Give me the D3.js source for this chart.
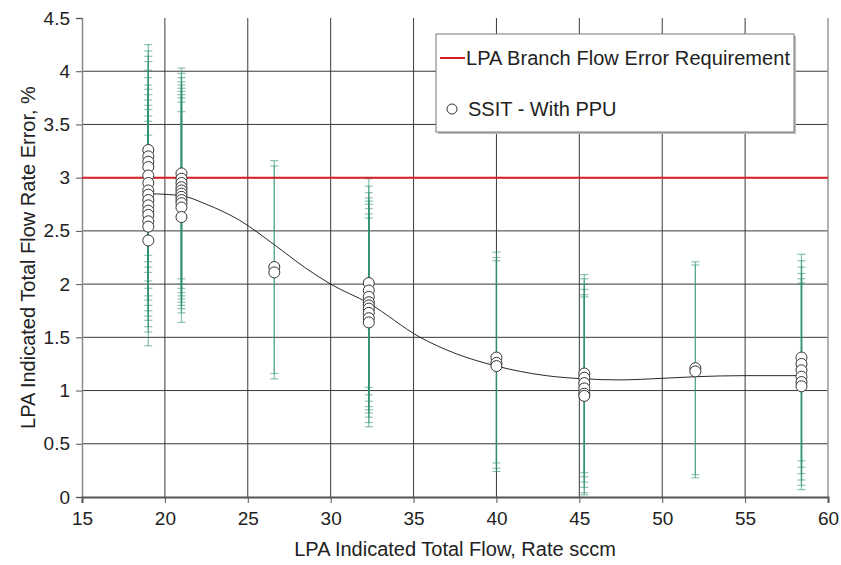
<!DOCTYPE html>
<html>
<head>
<meta charset="utf-8">
<script src="https://cdn.jsdelivr.net/npm/d3@7"></script>
<style>
  body { margin: 0; background: #fff; }
  text { font-family: "Liberation Sans", Arial, sans-serif; fill: #222; }
</style>
</head>
<body>
<script>
// flow setpoints (sccm) and the measured errors (%) at each one
const flowRates = [19, 21, 26.6, 32.3, 40, 45.3, 52, 58.4];
const errors19 = [3.26, 3.2, 3.15, 3.1, 3.02, 2.95, 2.88, 2.84, 2.79, 2.74, 2.69, 2.65, 2.59, 2.54, 2.41];
const errors21 = [3.04, 2.99, 2.95, 2.91, 2.88, 2.85, 2.82, 2.79, 2.76, 2.72, 2.63];
const errors26 = [2.16, 2.11];
const errors32 = [2.01, 1.94, 1.88, 1.83, 1.8, 1.77, 1.73, 1.68, 1.64];
const errors40 = [1.31, 1.26, 1.23];
const errors45 = [1.16, 1.12, 1.07, 1.02, 0.97, 0.95];
const errors52 = [1.21, 1.18];
const errors58 = [1.31, 1.25, 1.19, 1.13, 1.08, 1.04];
const clusterErrors = [errors19, errors21, errors26, errors32, errors40, errors45, errors52, errors58];
// uncertainty (± %) on each point, per setpoint
const uncertainty = [0.99, 0.99, 1.0, 0.98, 0.99, 0.93, 1.0, 0.97];

// trend curve
const trendX = [19, 21, 22.5, 24.5, 26.6, 28.5, 30, 32.3, 35.4, 37.5, 40, 43, 45.3, 47.4, 50, 52, 55, 58.4];
const trendY = [2.85, 2.83, 2.75, 2.6, 2.37, 2.15, 2.0, 1.82, 1.5, 1.35, 1.23, 1.14, 1.11, 1.1, 1.115, 1.13, 1.14, 1.14];

const requirement = 3;
const xTicks = [15, 20, 25, 30, 35, 40, 45, 50, 55, 60];
const yTicks = [0, 0.5, 1, 1.5, 2, 2.5, 3, 3.5, 4, 4.5];

const width = 841;
const height = 565;
const margin = { top: 18, right: 13, bottom: 68, left: 82 };

const svg = d3.select('body')
    .append('svg')
    .attr('width', width)
    .attr('height', height);

const x = d3.scaleLinear()
    .domain([15, 60])
    .range([margin.left, width - margin.right]);

const y = d3.scaleLinear()
    .domain([0, 4.5])
    .range([height - margin.bottom, margin.top]);

// grid
svg.append('g')
    .selectAll('line')
    .data(yTicks.filter(d => d > 0 && d < 4.5))
    .join('line')
    .attr('x1', x(15))
    .attr('x2', x(60))
    .attr('y1', d => y(d))
    .attr('y2', d => y(d))
    .attr('stroke', '#3a3a3a')
    .attr('stroke-width', 1);

svg.append('g')
    .selectAll('line')
    .data(xTicks.filter(d => d > 15 && d < 60))
    .join('line')
    .attr('x1', d => x(d))
    .attr('x2', d => x(d))
    .attr('y1', y(0))
    .attr('y2', y(4.5))
    .attr('stroke', '#3a3a3a')
    .attr('stroke-width', 1);

// right border
svg.append('line')
    .attr('x1', x(60)).attr('x2', x(60))
    .attr('y1', y(0)).attr('y2', y(4.5))
    .attr('stroke', '#999')
    .attr('stroke-width', 1.5);

// axes
const yAxis = svg.append('g')
    .attr('transform', `translate(${margin.left},0)`)
    .call(d3.axisLeft(y).tickValues(yTicks).tickSize(6).tickPadding(6).tickFormat(d3.format('')));

const xAxis = svg.append('g')
    .attr('transform', `translate(0,${y(0)})`)
    .call(d3.axisBottom(x).tickValues(xTicks).tickSize(6).tickPadding(9));

yAxis.select('.domain').attr('stroke', '#888').attr('stroke-width', 1.5);
xAxis.select('.domain').attr('stroke', '#555').attr('stroke-width', 2);
[xAxis, yAxis].forEach(a => {
    a.selectAll('.tick line').attr('stroke', '#555');
    a.selectAll('.tick text').attr('font-size', 19).style('fill', '#222')
        .attr('font-family', '"Liberation Sans", Arial, sans-serif');
});

// points with their error bars
const points = [];
clusterErrors.forEach((list, i) => {
    list.forEach(v => points.push({ flow: flowRates[i], err: v, u: uncertainty[i] }));
});

const bars = svg.append('g')
    .attr('stroke', '#2f9273')
    .attr('stroke-opacity', 0.55);

bars.selectAll('line.bar')
    .data(points)
    .join('line')
    .attr('class', 'bar')
    .attr('x1', d => x(d.flow))
    .attr('x2', d => x(d.flow))
    .attr('y1', d => y(d.err - d.u))
    .attr('y2', d => y(d.err + d.u))
    .attr('stroke-width', 1.3);

const caps = points.flatMap(d => [
    { flow: d.flow, v: d.err - d.u },
    { flow: d.flow, v: d.err + d.u }
]);

bars.selectAll('line.cap')
    .data(caps)
    .join('line')
    .attr('class', 'cap')
    .attr('x1', d => x(d.flow) - 4)
    .attr('x2', d => x(d.flow) + 4)
    .attr('y1', d => y(d.v))
    .attr('y2', d => y(d.v))
    .attr('stroke-width', 1.2);

// requirement line
svg.append('line')
    .attr('x1', x(15))
    .attr('x2', x(60))
    .attr('y1', y(requirement))
    .attr('y2', y(requirement))
    .attr('stroke', '#d51f26')
    .attr('stroke-width', 2);

// trend curve
const trend = trendX.map((d, i) => [d, trendY[i]]);
svg.append('path')
    .datum(trend)
    .attr('fill', 'none')
    .attr('stroke', '#111')
    .attr('stroke-width', 0.9)
    .attr('d', d3.line().x(d => x(d[0])).y(d => y(d[1])).curve(d3.curveMonotoneX));

svg.append('g')
    .selectAll('circle')
    .data(points)
    .join('circle')
    .attr('cx', d => x(d.flow))
    .attr('cy', d => y(d.err))
    .attr('r', 5.5)
    .attr('fill', '#fff')
    .attr('stroke', '#333')
    .attr('stroke-width', 1);

// axis titles
svg.append('text')
    .attr('x', (x(15) + x(60)) / 2)
    .attr('y', 556)
    .attr('text-anchor', 'middle')
    .attr('font-size', 20)
    .text('LPA Indicated Total Flow, Rate sccm');

svg.append('text')
    .attr('transform', `translate(35,${(y(0) + y(4.5)) / 2}) rotate(-90)`)
    .attr('text-anchor', 'middle')
    .attr('font-size', 20)
    .text('LPA Indicated Total Flow Rate Error, %');

// legend
const legend = svg.append('g').attr('transform', 'translate(436,34)');
legend.append('rect')
    .attr('x', 2).attr('y', 2)
    .attr('width', 358).attr('height', 98)
    .attr('fill', '#bbb');
legend.append('rect')
    .attr('width', 358).attr('height', 98)
    .attr('fill', '#fff')
    .attr('stroke', '#777')
    .attr('stroke-width', 1);
legend.append('line')
    .attr('x1', 4).attr('x2', 29)
    .attr('y1', 24).attr('y2', 24)
    .attr('stroke', '#d51f26')
    .attr('stroke-width', 2);
legend.append('text')
    .attr('x', 30).attr('y', 31)
    .attr('font-size', 20)
    .attr('textLength', 324)
    .text('LPA Branch Flow Error Requirement');
legend.append('circle')
    .attr('cx', 16).attr('cy', 75)
    .attr('r', 5)
    .attr('fill', '#fff')
    .attr('stroke', '#333');
legend.append('text')
    .attr('x', 32).attr('y', 82)
    .attr('font-size', 20)
    .text('SSIT - With PPU');
</script>
</body>
</html>
